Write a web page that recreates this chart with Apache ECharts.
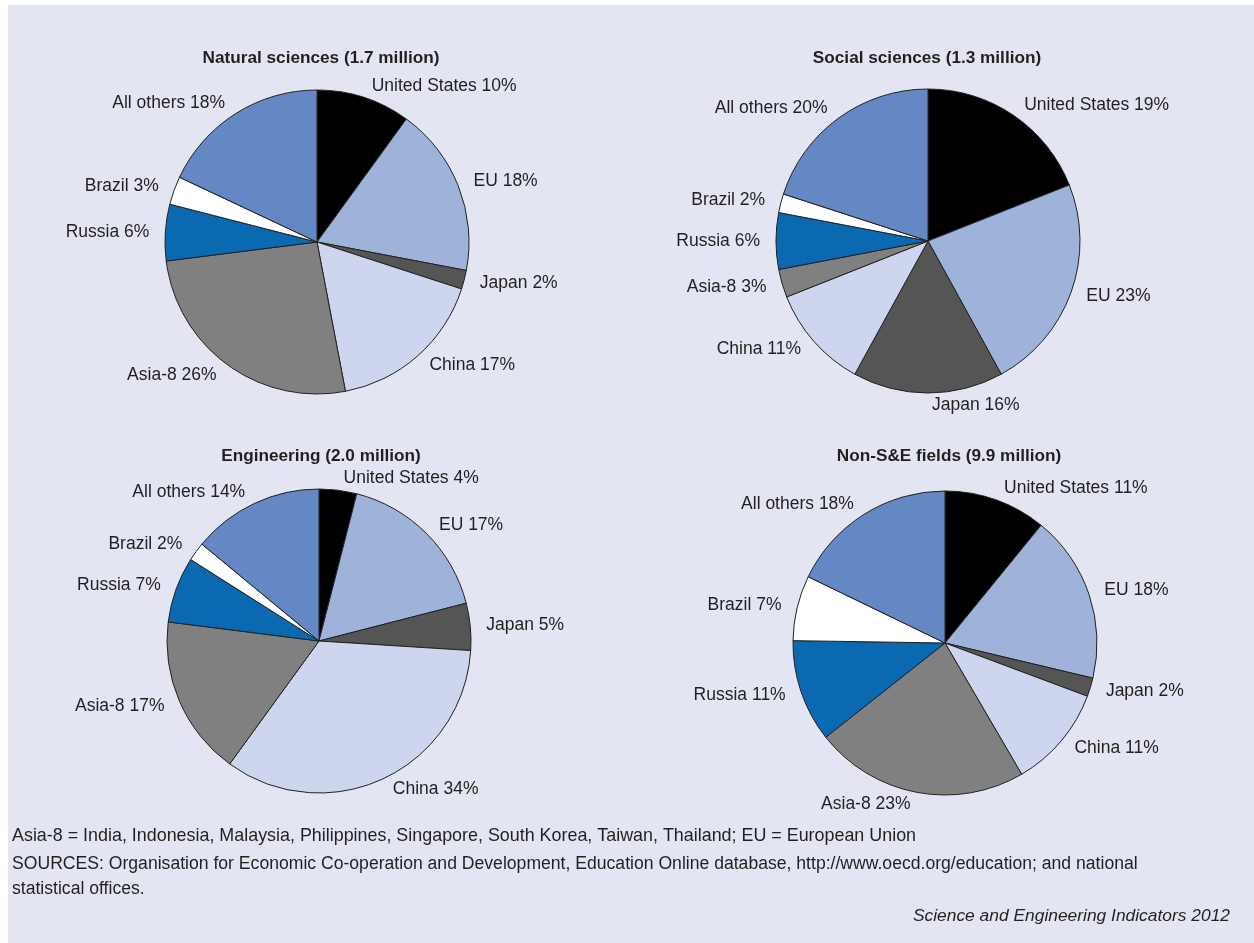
<!DOCTYPE html>
<html>
<head>
<meta charset="utf-8">
<script src="https://cdn.jsdelivr.net/npm/echarts@6/dist/echarts.min.js"></script>
<style>
  html, body { margin: 0; padding: 0; background: #ffffff; }
  #chart { position: absolute; left: 8px; top: 5px; width: 1246px; height: 938px; }
</style>
</head>
<body>
<div id="chart"></div>
<script>
const categories = ['United States', 'EU', 'Japan', 'China', 'Asia-8', 'Russia', 'Brazil', 'All others'];
const colors = ['#000000', '#9fb3da', '#555555', '#cdd6ee', '#808080', '#0a69b0', '#ffffff', '#6488c3'];

const titles = ['Natural sciences (1.7 million)', 'Social sciences (1.3 million)', 'Engineering (2.0 million)', 'Non-S&E fields (9.9 million)'];
const naturalSciences = [10, 18, 2, 17, 26, 6, 3, 18];
const socialSciences = [19, 23, 16, 11, 3, 6, 2, 20];
const engineering = [4, 17, 5, 34, 17, 7, 2, 14];
const nonSE = [11, 18, 2, 11, 23, 11, 7, 18];

const footnote1 = 'Asia-8 = India, Indonesia, Malaysia, Philippines, Singapore, South Korea, Taiwan, Thailand; EU = European Union';
const footnote2 = 'SOURCES: Organisation for Economic Co-operation and Development, Education Online database, http://www.oecd.org/education; and national';
const footnote3 = 'statistical offices.';
const credit = 'Science and Engineering Indicators 2012';

const panels = [naturalSciences, socialSciences, engineering, nonSE];
// chart container offset: left 8, top 5
const centers = [[309, 237], [920, 236], [311, 636], [937, 638]];
const titlePos = [[308, 50], [914, 50], [308, 448], [936, 448]];

const font = '"Liberation Sans", Arial, Helvetica, sans-serif';
const textColor = '#231f20';

const chart = echarts.init(document.getElementById('chart'), null, { renderer: 'canvas' });

const series = panels.map((vals, i) => ({
  type: 'pie',
  center: centers[i],
  radius: 152,
  startAngle: 90,
  clockwise: true,
  avoidLabelOverlap: true,
  animation: false,
  silent: true,
  itemStyle: { borderColor: '#222222', borderWidth: 1 },
  label: {
    show: true,
    position: 'outside',
    formatter: p => p.name + ' ' + p.value + '%',
    fontFamily: font,
    fontSize: 17.5,
    color: textColor,
    distanceToLabelLine: 4
  },
  labelLine: { show: false, length: 12, length2: 0 },
  emphasis: { disabled: true },
  data: categories.map((c, k) => ({ name: c, value: vals[k], itemStyle: { color: colors[k] } }))
}));

const title = titles.map((t, i) => ({
  text: t,
  left: titlePos[i][0],
  top: titlePos[i][1] - 10,
  textAlign: 'center',
  textStyle: { fontFamily: font, fontSize: 17.2, fontWeight: 'bold', color: textColor }
}));

chart.setOption({
  backgroundColor: '#e3e5f2',
  title: title,
  series: series,
  graphic: [
    { type: 'text', left: 4, top: 822, style: { text: footnote1, font: '17.9px ' + font, fill: textColor } },
    { type: 'text', left: 4, top: 850, style: { text: footnote2, font: '17.6px ' + font, fill: textColor } },
    { type: 'text', left: 4, top: 875, style: { text: footnote3, font: '17.6px ' + font, fill: textColor } },
    { type: 'text', right: 24, top: 903, style: { text: credit, font: 'italic 17.4px ' + font, fill: textColor } }
  ]
});
</script>
</body>
</html>
